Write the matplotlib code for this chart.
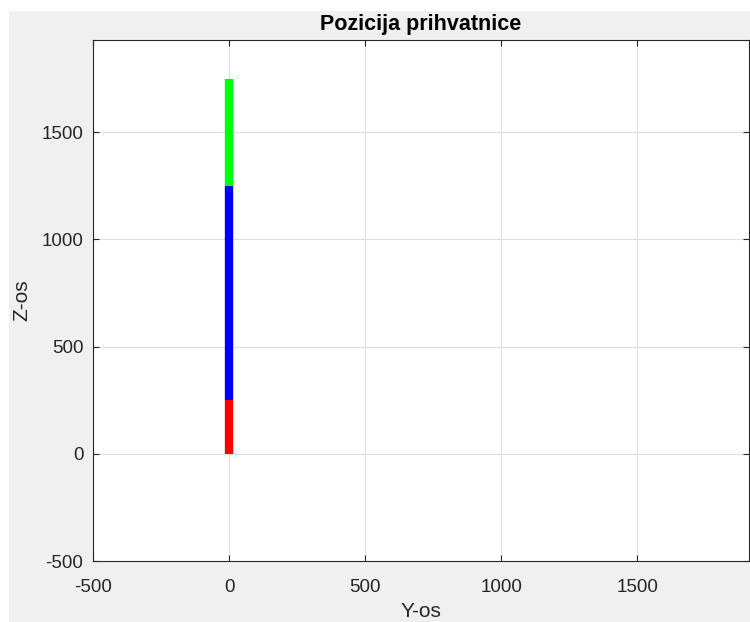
import matplotlib
matplotlib.use("Agg")
import matplotlib.pyplot as plt
from matplotlib.patches import Rectangle

# segments of the gripper (Y, Z)
seg_y = [[0, 0], [0, 0], [0, 0]]
seg_z = [[0, 250], [250, 1250], [1250, 1750]]
seg_colors = ["#ff0000", "#0000ff", "#00ff00"]

xticks = [-500, 0, 500, 1000, 1500]
yticks = [-500, 0, 500, 1000, 1500]

plt.rcParams['font.family'] = ['Liberation Sans', 'DejaVu Sans']
plt.rcParams['axes.unicode_minus'] = False

W, H = 750, 622
fig = plt.figure(figsize=(W / 100, H / 100), dpi=100, facecolor="white")
# gray MATLAB-style background, with thin white strip at top/left
fig.patches.append(Rectangle((9 / W, 0), 1, 1 - 11 / H, transform=fig.transFigure,
                             facecolor="#f0f0f0", edgecolor="none", zorder=-10))

left, right, top, bottom = 93, 749, 40, 561
ax = fig.add_axes([left / W, 1 - bottom / H, (right - left) / W, (bottom - top) / H])
ax.set_facecolor("white")

for yy, zz, c in zip(seg_y, seg_z, seg_colors):
    ax.plot(yy, zz, color=c, linewidth=6, solid_capstyle="butt")

ax.set_xlim(-500, 1910)
ax.set_ylim(-500, 1930)
ax.set_xticks(xticks)
ax.set_yticks(yticks)
ax.grid(True, color="#dfdfdf", linewidth=0.8)
ax.set_axisbelow(True)
ax.tick_params(direction="in", length=4, width=0.8, colors="#262626",
               labelsize=13.5, top=True, right=True, labelcolor="#262626")
ax.tick_params(axis="x", pad=13)
ax.tick_params(axis="y", pad=7)
for s in ax.spines.values():
    s.set_color("#262626")
    s.set_linewidth(0.8)

ax.set_title("Pozicija prihvatnice", fontsize=15.5, fontweight="bold", pad=7)
ax.set_xlabel("Y-os", fontsize=15, color="#262626", labelpad=4)
ax.set_ylabel("Z-os", fontsize=15, color="#262626", labelpad=7)

fig.savefig("out.png", dpi=100, facecolor=fig.get_facecolor())
